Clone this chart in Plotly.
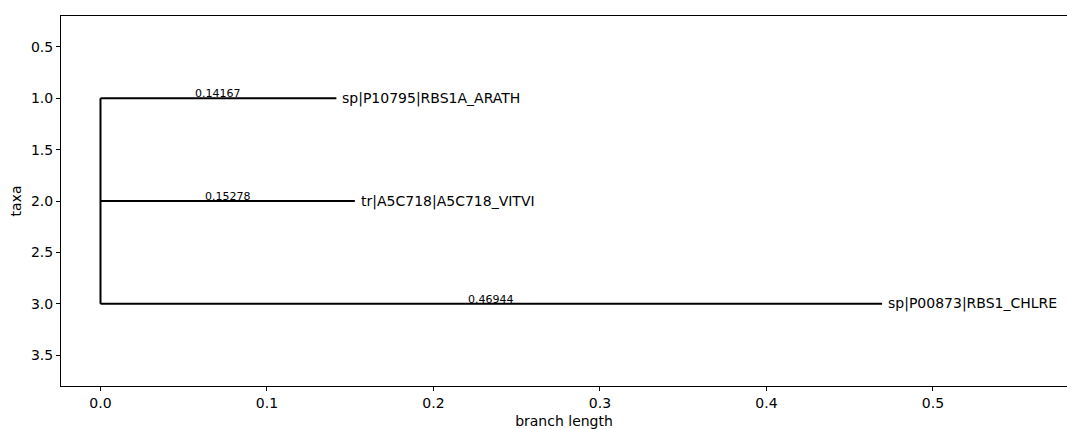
import plotly.graph_objects as go

taxa = ["sp|P10795|RBS1A_ARATH", "tr|A5C718|A5C718_VITVI", "sp|P00873|RBS1_CHLRE"]
branch_lengths = [0.14167, 0.15278, 0.46944]
y_pos = [1, 2, 3]
x_ticks = [0.0, 0.1, 0.2, 0.3, 0.4, 0.5]
y_ticks = [0.5, 1.0, 1.5, 2.0, 2.5, 3.0, 3.5]

FONT = "DejaVu Sans"
fig = go.Figure()

# vertical clade line at root
fig.add_trace(go.Scatter(x=[0, 0], y=[min(y_pos), max(y_pos)], mode="lines",
                         line=dict(color="black", width=2), showlegend=False, hoverinfo="skip"))
# horizontal branches
for t, bl, y in zip(taxa, branch_lengths, y_pos):
    fig.add_trace(go.Scatter(x=[0, bl], y=[y, y], mode="lines",
                             line=dict(color="black", width=2), showlegend=False, hoverinfo="skip"))
    fig.add_annotation(x=bl, y=y, text=t, showarrow=False, xanchor="left", yanchor="middle",
                       xshift=4, font=dict(family=FONT, size=14, color="black"))
    fig.add_annotation(x=bl / 2, y=y, text=f"{bl:.5f}", showarrow=False, xanchor="center",
                       yanchor="bottom", yshift=-4, font=dict(family=FONT, size=11, color="black"))

fig.update_layout(
    width=1067, height=429,
    margin=dict(l=61, r=0, t=16, b=38),
    plot_bgcolor="white", paper_bgcolor="white",
    font=dict(family=FONT, size=14, color="black"),
    xaxis=dict(range=[-0.02372, 0.5805], tickvals=x_ticks, tickformat=".1f",
               showgrid=False, zeroline=False, showline=True, linecolor="black", linewidth=1,
               mirror=True, ticks="outside", ticklen=4, tickcolor="black",
               title=dict(text="branch length", standoff=8, font=dict(size=14))),
    yaxis=dict(range=[3.8, 0.2], tickvals=y_ticks, tickformat=".1f",
               showgrid=False, zeroline=False, showline=True, linecolor="black", linewidth=1,
               mirror=False, ticks="outside", ticklen=4, tickcolor="black",
               title=dict(text="taxa", standoff=6, font=dict(size=14))),
)

fig.write_html("out.html", config={"displayModeBar": False},
               post_script="document.body.style.margin='0';document.body.style.overflow='hidden';")
